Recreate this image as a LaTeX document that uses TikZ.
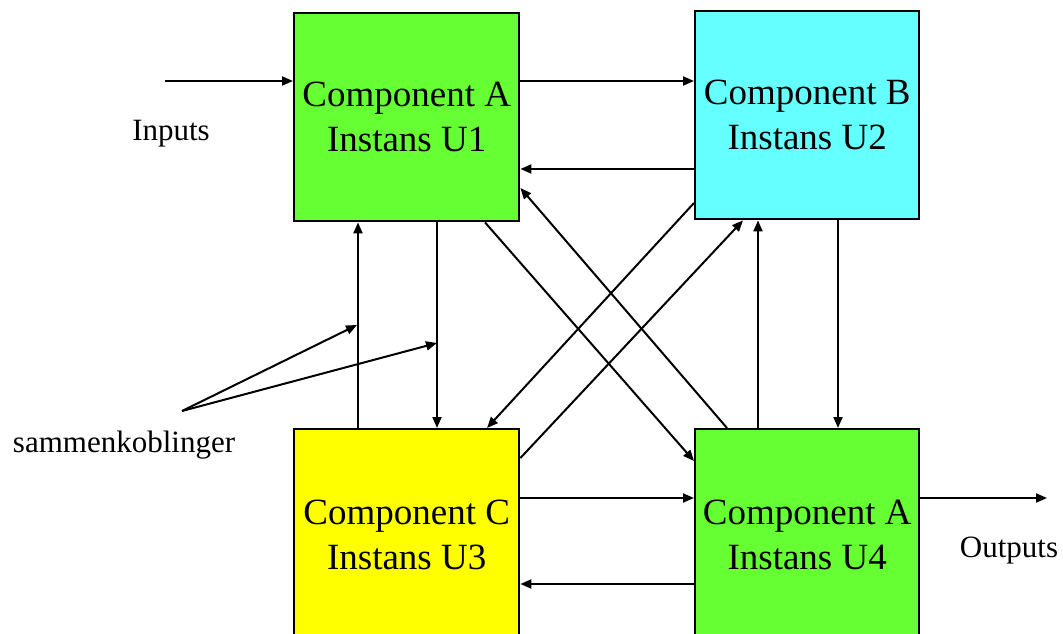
\documentclass[tikz,border=0pt]{standalone}
\usepackage{fontspec}
\setmainfont{Liberation Serif}
\usetikzlibrary{arrows.meta,calc}
\begin{document}
\begin{tikzpicture}[x=1pt,y=-1pt,
  comp/.style={draw=black, line width=2.4pt, minimum width=225pt, minimum height=208pt,
    inner sep=0pt, anchor=north west, align=center, font=\fontsize{37}{45}\selectfont},
  arr/.style={line width=2pt, -{Triangle[length=11pt,width=9pt]}},
  lbl/.style={anchor=base, font=\fontsize{31}{36}\selectfont, inner sep=0pt}]
\useasboundingbox (0,0) rectangle (1063,634);
\begin{scope}
\clip (-5,-5) rectangle (1068,634);
\node[comp, fill={rgb,255:red,102;green,255;blue,51}] (A) at (293,12) {Component A\\Instans U1};
\node[comp, fill={rgb,255:red,102;green,255;blue,255}, minimum width=224pt] (B) at (694,10) {Component B\\Instans U2};
\node[comp, fill={rgb,255:red,255;green,255;blue,0}, minimum height=212pt] (C) at (293,428) {Component C\\Instans U3};
\node[comp, fill={rgb,255:red,102;green,255;blue,51}, minimum width=224pt, minimum height=212pt] (D) at (694,428) {Component A\\Instans U4};
\end{scope}

\coordinate (in) at (165,81);
\coordinate (out) at (1047,498);
\coordinate (s) at (182,411);
\coordinate (p1) at (357,325);
\coordinate (p2) at (437,343);

\node[lbl] (inl) at (171,140) {Inputs};
\node[lbl] (outl) at (1009,557) {Outputs};
\node[lbl] (sl) at (124,452) {sammenkoblinger};

% inputs
\draw[arr] (in) -- (in -| A.west);
% A <-> B
\draw[arr] ($(A.north east)+(0,69)$) coordinate (ab) -- (ab -| B.west);
\draw[arr] ($(B.north west)+(0,159)$) coordinate (ba) -- (ba -| A.east);
% A <-> C
\draw[arr] ($(A.south west)+(144,0)$) coordinate (ac) -- (ac |- C.north);
\draw[arr] ($(C.north west)+(65,0)$) coordinate (ca) -- (ca |- A.south);
% diagonals A <-> D
\draw[arr] ($(A.south west)+(192,0)$) -- ($(D.north west)+(0,33)$);
\draw[arr] ($(D.north west)+(33,0)$) -- ($(A.north east)+(0,176)$);
% diagonals B <-> C
\draw[arr] ($(B.north west)+(0,193)$) -- ($(C.north west)+(194,0)$);
\draw[arr] ($(C.north east)+(0,30)$) -- ($(B.south west)+(49,0)$);
% B <-> D
\draw[arr] ($(B.south west)+(144,0)$) coordinate (bd) -- (bd |- D.north);
\draw[arr] ($(D.north west)+(64,0)$) coordinate (db) -- (db |- B.south);
% C <-> D
\draw[arr] ($(C.north east)+(0,70)$) coordinate (cd) -- (cd -| D.west);
\draw[arr] ($(D.north west)+(0,156)$) coordinate (dc) -- (dc -| C.east);
% outputs
\draw[arr] ($(D.north east)+(0,70)$) -- (out);
% sammenkoblinger
\draw[arr] (s) -- (p1);
\draw[arr] (s) -- (p2);
\end{tikzpicture}
\end{document}
